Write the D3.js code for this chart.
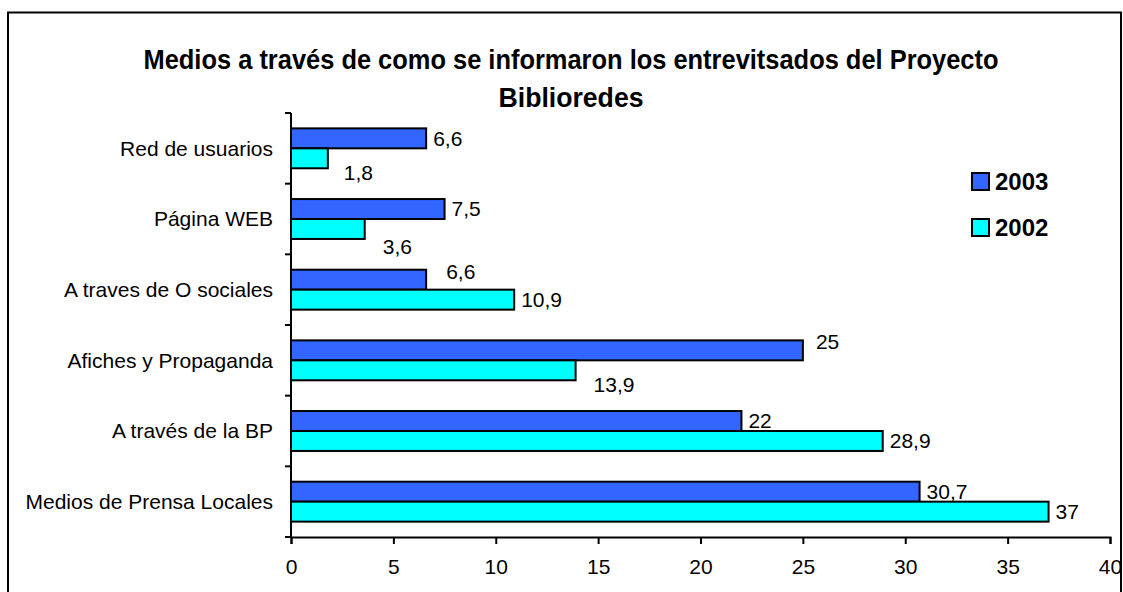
<!DOCTYPE html>
<html>
<head>
<meta charset="utf-8">
<script src="https://cdn.jsdelivr.net/npm/d3@7"></script>
<style>
body{margin:0;background:#fff}
text{font-family:"Liberation Sans",Arial,sans-serif;fill:#000}
</style>
</head>
<body>
<div id="chart"></div>
<script>

const categories=["Red de usuarios","Página WEB","A traves de O sociales","Afiches y Propaganda","A través de la BP","Medios de Prensa Locales"]
const series=["2003","2002"]
const values2003=[6.6,7.5,6.6,25,22,30.7]
const values2002=[1.8,3.6,10.9,13.9,28.9,37]
const xTicks=[0,5,10,15,20,25,30,35,40]
const titleLines=["Medios a través de como se informaron los entrevitsados del Proyecto","Biblioredes"]

// labels Excel had dragged off their default spot
const labelNudge={"2002|0":[9,14],"2002|1":[11,18],"2003|2":[13,-8],"2003|3":[6,-9],"2002|3":[11,14]}

const colors={"2003":"#3366ff","2002":"#00ffff"}

const width=1123
const height=592

const rows=categories.map((c,i)=>({cat:c,i:i,vals:[
{s:"2003",v:values2003[i]},
{s:"2002",v:values2002[i]}
]}))

const svg=d3.select("#chart")
.append("svg")
.attr("width",width)
.attr("height",height)

svg.append("rect")
.attr("x",8)
.attr("y",12.5)
.attr("width",1113)
.attr("height",600)
.attr("fill","none")
.attr("stroke","#000")
.attr("stroke-width",2)

const x=d3.scaleLinear()
.domain([0,40])
.range([291,1110])

const y=d3.scaleBand()
.domain(categories)
.range([113,537])
.padding(0)

const ySub=d3.scaleBand()
.domain(series)
.range([0,y.bandwidth()])
.paddingInner(0)
.paddingOuter(0.77)

// title, no narrow font here so squeeze it to the original width
const titleWidths=[855,145]

svg.append("g")
.selectAll("text")
.data(titleLines)
.enter()
.append("text")
.attr("x",571)
.attr("y",(d,i)=>69+i*38)
.attr("text-anchor","middle")
.attr("textLength",(d,i)=>titleWidths[i])
.attr("lengthAdjust","spacingAndGlyphs")
.style("font-weight","bold")
.style("font-size","28px")
.text(d=>d)

// bars
const groups=svg.append("g")
.selectAll("g")
.data(rows)
.enter()
.append("g")
.attr("transform",d=>`translate(0,${y(d.cat)})`)

groups.selectAll("rect")
.data(d=>d.vals)
.enter()
.append("rect")
.attr("x",x(0))
.attr("y",d=>ySub(d.s))
.attr("width",d=>x(d.v)-x(0))
.attr("height",ySub.bandwidth())
.attr("fill",d=>colors[d.s])
.attr("stroke","#000")
.attr("stroke-width",2)

groups.selectAll("text")
.data(d=>d.vals.map(v=>({...v,i:d.i})))
.enter()
.append("text")
.attr("x",d=>x(d.v)+7+(labelNudge[d.s+"|"+d.i]||[0,0])[0])
.attr("y",d=>ySub(d.s)+ySub.bandwidth()/2+(labelNudge[d.s+"|"+d.i]||[0,0])[1])
.attr("dy","0.35em")
.style("font-size","21px")
.text(d=>String(d.v).replace(".",","))

// y axis
svg.append("line")
.attr("x1",x(0))
.attr("x2",x(0))
.attr("y1",113)
.attr("y2",537)
.attr("stroke","#000")
.attr("stroke-width",2)

svg.append("g")
.selectAll("line")
.data(categories.concat([null]))
.enter()
.append("line")
.attr("x1",x(0)-6)
.attr("x2",x(0))
.attr("y1",(d,i)=>113+i*y.step())
.attr("y2",(d,i)=>113+i*y.step())
.attr("stroke","#000")
.attr("stroke-width",2)

svg.append("g")
.selectAll("text")
.data(categories)
.enter()
.append("text")
.attr("x",273)
.attr("y",d=>y(d)+y.bandwidth()/2)
.attr("dy","0.35em")
.attr("text-anchor","end")
.style("font-size","21px")
.text(d=>d)

// x axis
const xAxis=svg.append("g")
.attr("transform","translate(0,537)")
.call(d3.axisBottom(x).tickValues(xTicks).tickSize(7).tickPadding(15).tickFormat(d3.format("d")))

xAxis.select(".domain").attr("stroke","#000").attr("stroke-width",2)
xAxis.selectAll(".tick line").attr("stroke","#000").attr("stroke-width",2)
xAxis.selectAll(".tick text")
.style("font-family",'"Liberation Sans",Arial,sans-serif')
.style("font-size","21px")
.attr("fill","#000")

// legend
const legend=svg.append("g")
.selectAll("g")
.data(series)
.enter()
.append("g")
.attr("transform",(d,i)=>`translate(972,${173+i*46})`)

legend.append("rect")
.attr("width",17)
.attr("height",17)
.attr("fill",d=>colors[d])
.attr("stroke","#000")
.attr("stroke-width",2)

legend.append("text")
.attr("x",23)
.attr("y",9)
.attr("dy","0.35em")
.style("font-weight","bold")
.style("font-size","24px")
.text(d=>d)

</script>
</body>
</html>
